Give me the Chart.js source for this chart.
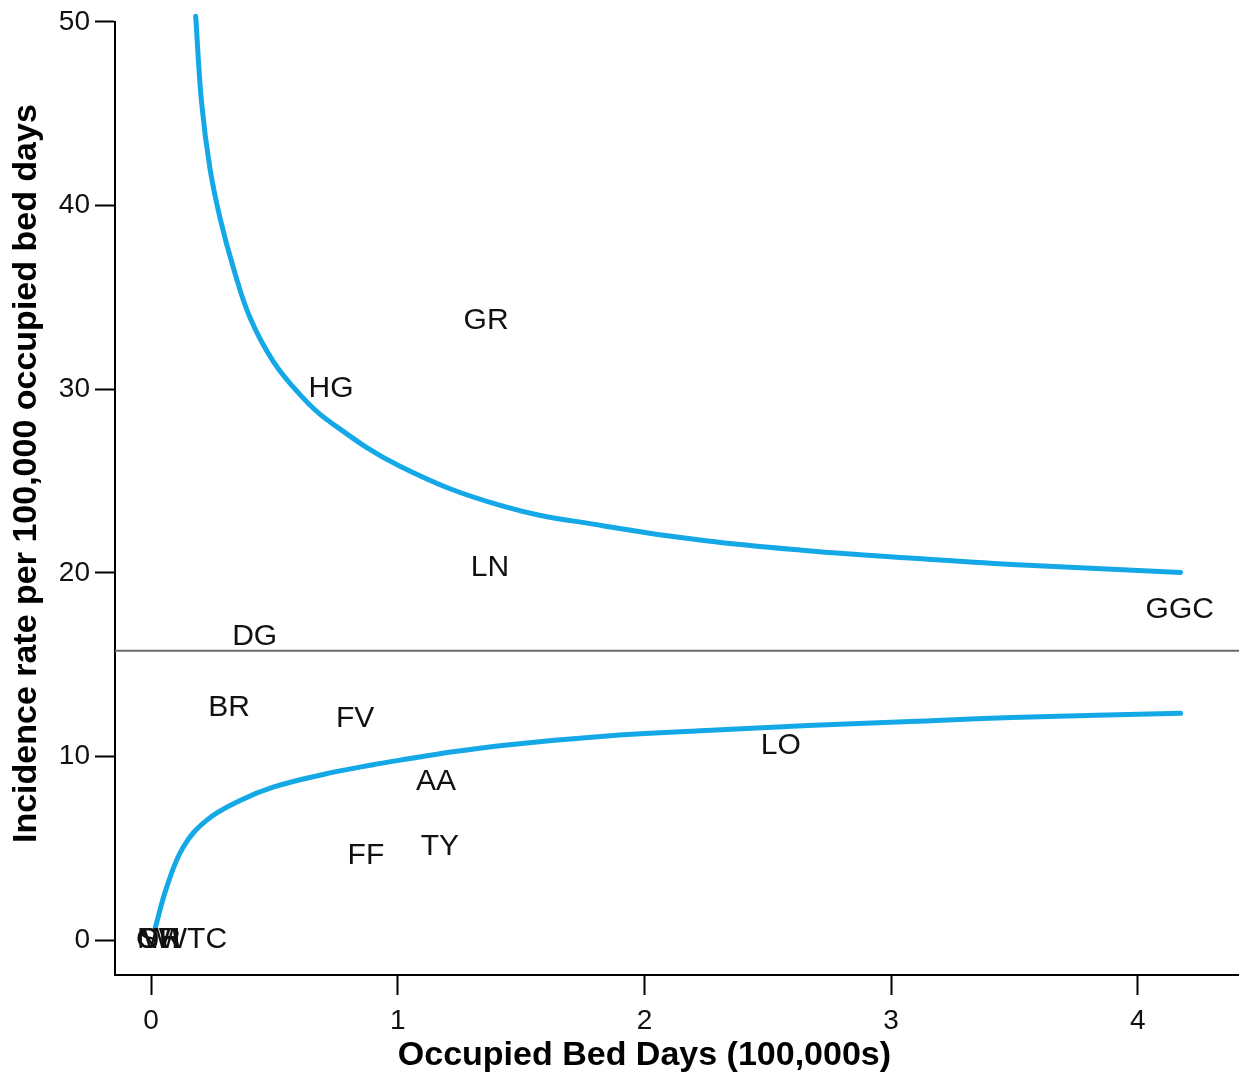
<!DOCTYPE html>
<html>
<head>
<meta charset="utf-8">
<script src="https://cdn.jsdelivr.net/npm/chart.js@4"></script>
<style>
  html, body { margin: 0; padding: 0; background: #fff; }
  #wrap { width: 1239px; height: 1073px; }
</style>
</head>
<body>
<div id="wrap"><canvas id="c" width="1239" height="1073"></canvas></div>
<script>
// ---- Data ----
const boardLabels = ["GR", "HG", "LN", "GGC", "DG", "BR", "FV", "LO", "AA", "TY", "FF", "OR", "SH", "WI", "NWTC"];
const bedDays     = [1.358, 0.73, 1.374, 4.17, 0.42, 0.316, 0.827, 2.553, 1.155, 1.171, 0.871, 0.03, 0.035, 0.04, 0.126];
const incidence   = [33.75, 30.0, 20.3, 18.0, 16.5, 12.66, 12.07, 10.6, 8.64, 5.1, 4.57, 0, 0, 0, 0];

const meanRate = 15.75;

const upperX = [0.181, 0.205, 0.239, 0.280, 0.334, 0.401, 0.496, 0.604, 0.712, 1.009, 1.423, 1.836, 2.249, 2.663, 3.076, 3.49, 4.173];
const upperY = [50.3, 45.6, 42.0, 39.3, 36.6, 33.9, 31.5, 29.7, 28.35, 25.8, 23.64, 22.55, 21.74, 21.2, 20.8, 20.45, 20.02];

const lowerX = [0.016, 0.064, 0.131, 0.225, 0.361, 0.495, 0.698, 0.9, 1.009, 1.171, 1.423, 1.836, 2.249, 2.663, 3.076, 3.49, 4.173];
const lowerY = [0.6, 2.9, 5.07, 6.52, 7.6, 8.33, 9.02, 9.55, 9.8, 10.15, 10.6, 11.1, 11.41, 11.68, 11.9, 12.12, 12.35];

const xTicks = [0, 1, 2, 3, 4];
const yTicks = [0, 10, 20, 30, 40, 50];
const xRange = [-0.146, 4.41];
const yRange = [-1.9, 50];

const xTitle = "Occupied Bed Days (100,000s)";
const yTitle = "Incidence rate per 100,000 occupied bed days";

// ---- Build chart ----
const FONT = "'Liberation Sans', Arial, Helvetica, sans-serif";
const curveColor = "#14A9E6";

const toPts = (xs, ys) => xs.map((x, i) => ({ x: x, y: ys[i] }));

const labelPlugin = {
  id: 'boardLabels',
  afterDatasetsDraw(chart) {
    const ctx = chart.ctx;
    const xs = chart.scales.x, ys = chart.scales.y;
    ctx.save();
    ctx.fillStyle = '#111';
    ctx.font = '30px ' + FONT;
    ctx.textAlign = 'center';
    ctx.textBaseline = 'middle';
    boardLabels.forEach((lab, i) => {
      ctx.fillText(lab, xs.getPixelForValue(bedDays[i]), ys.getPixelForValue(incidence[i]));
    });
    ctx.restore();
  }
};

const titlePlugin = {
  id: 'axisTitles',
  afterDraw(chart) {
    const ctx = chart.ctx;
    const xs = chart.scales.x, ys = chart.scales.y;
    ctx.save();
    ctx.fillStyle = '#000';
    ctx.font = 'bold 34px ' + FONT;
    ctx.textAlign = 'center';
    ctx.textBaseline = 'middle';
    ctx.fillText(xTitle, xs.getPixelForValue(2), 1056);
    ctx.translate(27, ys.getPixelForValue(25.4));
    ctx.rotate(-Math.PI / 2);
    ctx.fillText(yTitle, 0, 0);
    ctx.restore();
  }
};

new Chart(document.getElementById('c'), {
  type: 'scatter',
  data: {
    datasets: [
      {
        label: 'labels',
        data: toPts(bedDays, incidence),
        pointRadius: 0,
        showLine: false
      },
      {
        label: 'mean',
        data: [{ x: xRange[0], y: meanRate }, { x: xRange[1], y: meanRate }],
        showLine: true,
        borderColor: '#6b6b6b',
        borderWidth: 2,
        pointRadius: 0
      },
      {
        label: 'upper',
        data: toPts(upperX, upperY),
        showLine: true,
        borderColor: curveColor,
        borderWidth: 5,
        borderCapStyle: 'round',
        tension: 0.4,
        pointRadius: 0,
        clip: false
      },
      {
        label: 'lower',
        data: toPts(lowerX, lowerY),
        showLine: true,
        borderColor: curveColor,
        borderWidth: 5,
        borderCapStyle: 'round',
        tension: 0.4,
        pointRadius: 0,
        clip: false
      }
    ]
  },
  options: {
    responsive: false,
    animation: false,
    devicePixelRatio: 1,
    layout: { padding: { top: 20, right: 0, bottom: 0, left: 0 } },
    plugins: {
      legend: { display: false },
      tooltip: { enabled: false },
      title: { display: false }
    },
    scales: {
      x: {
        type: 'linear',
        min: xRange[0],
        max: xRange[1],
        afterFit(scale) { scale.height = 98; },
        afterBuildTicks(scale) { scale.ticks = xTicks.map(v => ({ value: v })); },
        ticks: {
          includeBounds: false,
          autoSkip: false,
          maxRotation: 0,
          color: '#111',
          font: { family: FONT, size: 28 },
          padding: 9,
          callback: v => String(v)
        },
        grid: {
          display: true,
          drawOnChartArea: false,
          drawTicks: true,
          tickLength: 20,
          tickWidth: 2,
          tickColor: '#000'
        },
        border: { display: true, color: '#000', width: 2 }
      },
      y: {
        type: 'linear',
        min: yRange[0],
        max: yRange[1],
        afterFit(scale) { scale.width = 115; },
        afterBuildTicks(scale) { scale.ticks = yTicks.map(v => ({ value: v })); },
        ticks: {
          includeBounds: false,
          autoSkip: false,
          color: '#111',
          font: { family: FONT, size: 28 },
          padding: 5,
          callback: v => String(v)
        },
        grid: {
          display: true,
          drawOnChartArea: false,
          drawTicks: true,
          tickLength: 20,
          tickWidth: 2,
          tickColor: '#000'
        },
        border: { display: true, color: '#000', width: 2 }
      }
    }
  },
  plugins: [labelPlugin, titlePlugin]
});
</script>
</body>
</html>
